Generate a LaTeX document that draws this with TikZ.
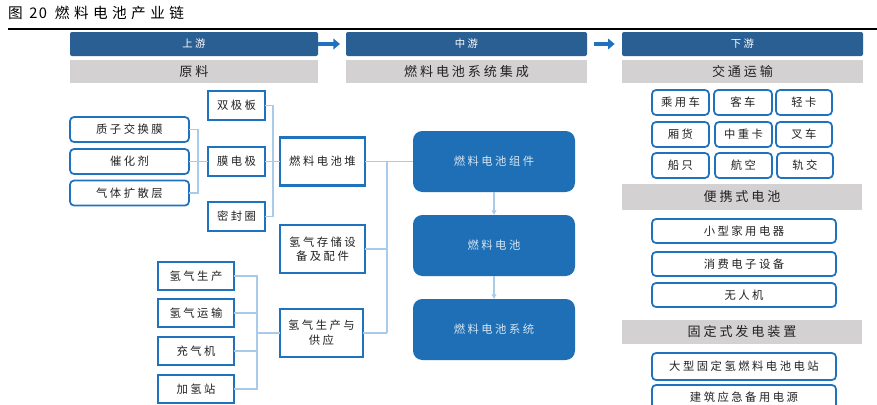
\documentclass[tikz,border=0pt]{standalone}
\usepackage{fontspec}
\newfontfamily\cjk[LetterSpace=22]{Noto Sans CJK SC}
\newfontfamily\cjkt[LetterSpace=30]{Noto Sans CJK SC}
\usetikzlibrary{arrows.meta}
\definecolor{hdrblue}{HTML}{2A5F93}
\definecolor{midblue}{HTML}{1E6FB5}
\definecolor{boxblue}{HTML}{1F73BE}
\definecolor{graybg}{HTML}{D3D1D1}
\definecolor{lineblue}{HTML}{A9CBEA}
\definecolor{lighttext}{HTML}{D6E5F3}
\definecolor{txt}{HTML}{222222}
\tikzset{
  every node/.style={inner sep=0pt, outer sep=0pt, text=txt},
  hdr/.style={fill=hdrblue, rounded corners=1.5pt, text=white, font=\cjk\fontsize{7.8}{9}\selectfont},
  gry/.style={fill=graybg, font=\cjk\fontsize{9.8}{11}\selectfont},
  rbox/.style={draw=boxblue, line width=1.3pt, rounded corners=3pt, fill=white, font=\cjk\fontsize{8.5}{10}\selectfont},
  sbox/.style={draw=boxblue, line width=1.6pt, fill=white, font=\cjk\fontsize{8.5}{10}\selectfont, align=center},
  mbox/.style={fill=midblue, rounded corners=7pt, text=lighttext, font=\cjk\fontsize{8.5}{10}\selectfont},
  conn/.style={draw=lineblue, line width=0.8pt},
  bigarrow/.style={draw=boxblue, line width=2.6pt, -{Triangle[length=5pt,width=8pt]}},
  smallarrow/.style={draw=lineblue, line width=0.8pt, -{Triangle[length=3.5pt,width=3.5pt]}, fill=lineblue}
}
\begin{document}
\begin{tikzpicture}[x=0.75pt, y=-0.75pt]
\clip (0,0) rectangle (877,404);
\fill[white] (0,0) rectangle (877,404);
% title
\node[anchor=west, font=\cjkt\fontsize{11}{13}\selectfont, text=black] (title) at (8,13) {图\hspace{5pt}2\hspace{1pt}0\hspace{6pt}燃料电池产业链};
\draw[black, line width=1.4pt] (8,29) coordinate (tl) -- (877,29) coordinate (tr);
% headers
\node[hdr, minimum width=186pt, minimum height=18pt] (up) at (194,44) {上游};
\node[hdr, minimum width=180.75pt, minimum height=18pt] (mid) at (466.5,44) {中游};
\node[hdr, minimum width=180.75pt, minimum height=18pt] (down) at (742.5,44) {下游};
\node[gry, minimum width=186pt, minimum height=17pt] (g1) at (194,71.5) {原料};
\node[gry, minimum width=180.75pt, minimum height=17pt] (g2) at (466.5,71.5) {燃料电池系统集成};
\node[gry, minimum width=180.75pt, minimum height=17pt] (g3) at (742.5,71.5) {交通运输};
\draw[bigarrow, shorten >=4.5pt] (up.east) -- (mid.west);
\draw[bigarrow, shorten <=5.5pt, shorten >=5.5pt] (mid.east) -- (down.west);
% left materials
\node[rbox, minimum width=89.25pt, minimum height=18.75pt] (pem) at (129.5,129.5) {质子交换膜};
\node[rbox, minimum width=89.25pt, minimum height=18.75pt] (cat) at (129.5,161.5) {催化剂};
\node[rbox, minimum width=89.25pt, minimum height=18.75pt] (gdl) at (129.5,193) {气体扩散层};
\node[sbox, minimum width=42.75pt, minimum height=21.75pt] (bp) at (236.5,105.5) {双极板};
\node[sbox, minimum width=42.75pt, minimum height=21.75pt] (mea) at (236.5,161.5) {膜电极};
\node[sbox, minimum width=42.75pt, minimum height=21.75pt] (seal) at (236.5,216.5) {密封圈};
\node[sbox, minimum width=63.75pt, minimum height=36pt] (stack) at (322.5,161.5) {燃料电池堆};
\node[sbox, minimum width=63.75pt, minimum height=36pt] (store) at (322.5,249) {氢气存储设\\[1pt]备及配件};
\node[sbox, minimum width=62.25pt, minimum height=36pt] (supply) at (321.5,333) {氢气生产与\\[1pt]供应};
\node[sbox, minimum width=57pt, minimum height=21pt] (h1) at (196,276) {氢气生产};
\node[sbox, minimum width=57pt, minimum height=21pt] (h2) at (196,313) {氢气运输};
\node[sbox, minimum width=57pt, minimum height=21pt] (h3) at (196,351) {充气机};
\node[sbox, minimum width=57pt, minimum height=21pt] (h4) at (196,389) {加氢站};
% junctions
\coordinate (j1) at (198,161.5);
\coordinate (j2) at (273,161.5);
\coordinate (j3) at (257,333);
\coordinate (j4) at (387,161.5);
\draw[conn] (pem.east) -| (j1) (gdl.east) -| (j1) (cat.east) -- (mea.west);
\draw[conn] (bp.east) -| (j2) (seal.east) -| (j2) (mea.east) -- (stack.west);
\draw[conn] (h1.east) -| (j3) (h2.east) -| (j3) (h3.east) -| (j3) (h4.east) -| (j3) (j3) -- (supply.west);
% middle blue boxes
\node[mbox, minimum width=121.5pt, minimum height=45.75pt] (comp) at (494,161.5) {燃料电池组件};
\node[mbox, minimum width=121.5pt, minimum height=45.75pt] (cell) at (494,245.5) {燃料电池};
\node[mbox, minimum width=121.5pt, minimum height=45.75pt] (sys) at (494,329.5) {燃料电池系统};
\draw[conn] (stack.east) -- (comp.west);
\draw[conn] (j4) -- (supply.east -| j4);
\draw[conn] (store.east) -- (store.east -| j4);
\draw[conn] (supply.east) -- (supply.east -| j4);
\draw[smallarrow] (comp.south) -- (cell.north);
\draw[smallarrow] (cell.south) -- (sys.north);
% right column
\node[rbox, minimum width=42.75pt, minimum height=18.75pt] (r11) at (680.5,102.5) {乘用车};
\node[rbox, minimum width=43.5pt, minimum height=18.75pt] (r12) at (743,102.5) {客车};
\node[rbox, minimum width=42pt, minimum height=18.75pt] (r13) at (804,102.5) {轻卡};
\node[rbox, minimum width=42.75pt, minimum height=18.75pt] (r21) at (680.5,134.5) {厢货};
\node[rbox, minimum width=42.75pt, minimum height=18.75pt] (r22) at (743.5,134.5) {中重卡};
\node[rbox, minimum width=42pt, minimum height=18.75pt] (r23) at (804,134.5) {叉车};
\node[rbox, minimum width=42.75pt, minimum height=18.75pt] (r31) at (680.5,165.5) {船只};
\node[rbox, minimum width=42.75pt, minimum height=18.75pt] (r32) at (743.5,165.5) {航空};
\node[rbox, minimum width=42pt, minimum height=18.75pt] (r33) at (805,165.5) {轨交};
\node[gry, minimum width=180pt, minimum height=19.5pt] (g4) at (742,197) {便携式电池};
\node[rbox, minimum width=138pt, minimum height=18pt] (p1) at (744,231) {小型家用电器};
\node[rbox, minimum width=138pt, minimum height=18pt] (p2) at (744,264) {消费电子设备};
\node[rbox, minimum width=138pt, minimum height=18pt] (p3) at (744,295) {无人机};
\node[gry, minimum width=180pt, minimum height=18pt] (g5) at (742,332) {固定式发电装置};
\node[rbox, minimum width=138pt, minimum height=20.25pt] (s1) at (744,366.5) {大型固定氢燃料电池电站};
\node[rbox, minimum width=138pt, minimum height=18.75pt] (s2) at (744,397.5) {建筑应急备用电源};
\end{tikzpicture}
\end{document}
